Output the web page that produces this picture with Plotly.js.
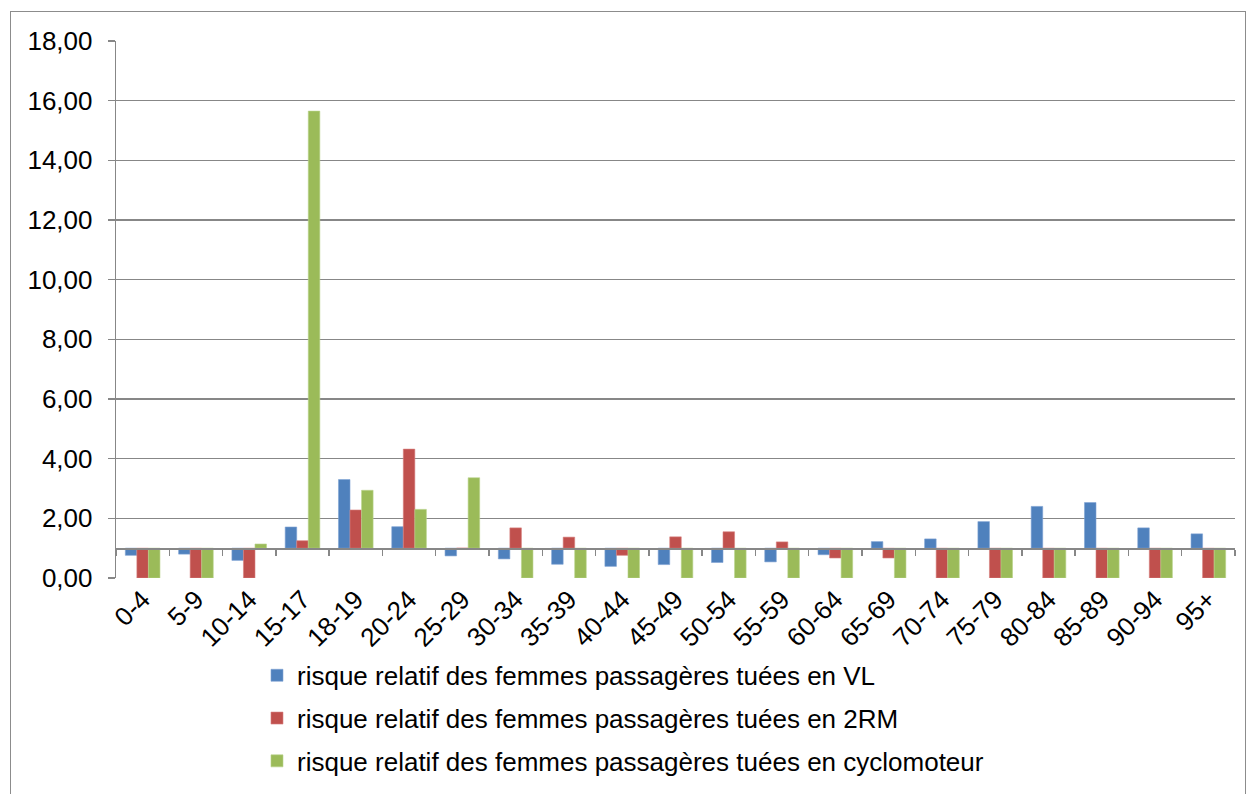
<!DOCTYPE html>
<html>
<head>
<meta charset="utf-8">
<script src="https://cdn.plot.ly/plotly-3.0.1.min.js"></script>
<style>
  html, body { margin: 0; padding: 0; background: #fff; }
  #wrap { position: relative; width: 1251px; height: 794px; overflow: hidden; }
  #frame { position: absolute; left: 10px; top: 11px; width: 1234px; height: 820px; border: 1px solid #8c8c8c; pointer-events: none; }
  #chart { position: absolute; left: 0; top: 0; width: 1251px; height: 794px; }
</style>
</head>
<body>
<div id="wrap">
  <div id="chart"></div>
  <div id="frame"></div>
</div>
<script>
const categories = ["0-4","5-9","10-14","15-17","18-19","20-24","25-29","30-34","35-39","40-44","45-49","50-54","55-59","60-64","65-69","70-74","75-79","80-84","85-89","90-94","95+"];
const riskVL    = [0.76, 0.80, 0.59, 1.71, 3.30, 1.72, 0.74, 0.64, 0.46, 0.39, 0.45, 0.52, 0.54, 0.78, 1.22, 1.31, 1.89, 2.40, 2.53, 1.68, 1.48];
const risk2RM   = [0.00, 0.00, 0.00, 1.25, 2.28, 4.32, 1.00, 1.68, 1.37, 0.76, 1.38, 1.55, 1.21, 0.67, 0.67, 0.00, 0.00, 0.00, 0.00, 0.00, 0.00];
const riskCyclo = [0.00, 0.00, 1.14, 15.65, 2.94, 2.30, 3.36, 0.00, 0.00, 0.00, 0.00, 0.00, 0.00, 0.00, 0.00, 0.00, 0.00, 0.00, 0.00, 0.00, 0.00];
const seriesNames = [
  "risque relatif des femmes passagères tuées en VL",
  "risque relatif des femmes passagères tuées en 2RM",
  "risque relatif des femmes passagères tuées en cyclomoteur"
];
const yTickVals = [0, 2, 4, 6, 8, 10, 12, 14, 16, 18];
const baseValue = 1;

const colors = ["#4F81BD", "#C0504D", "#9BBB59"];
const lineColors = ["#7FA3D3", "#D68280", "#B9D38A"];
const idx = categories.map((_, i) => i);

const traces = [riskVL, risk2RM, riskCyclo].map((vals, k) => ({
  type: "bar",
  name: seriesNames[k],
  x: idx,
  y: vals.map(v => v - baseValue),
  base: baseValue,
  customdata: vals,
  hovertemplate: "%{customdata:.2f}<extra></extra>",
  marker: { color: colors[k], line: { color: lineColors[k], width: 0.6 } },
  legendgroup: "g" + k
}));

const gridColor = "#878787";
const layout = {
  width: 1251,
  height: 794,
  margin: { l: 116, r: 16, t: 41, b: 216, autoexpand: false },
  paper_bgcolor: "rgba(0,0,0,0)",
  plot_bgcolor: "#fff",
  font: { family: "Liberation Sans, Arial, sans-serif", size: 26, color: "#000" },
  separators: ", ",
  barmode: "group",
  bargap: 0.35,
  bargroupgap: 0,
  showlegend: true,
  legend: {
    x: 0.126, xanchor: "left",
    yref: "container",
    y: 0.179, yanchor: "top",
    orientation: "v",
    font: { size: 26, color: "#000" },
    tracegroupgap: 6,
    itemclick: false
  },
  xaxis: {
    type: "linear",
    range: [-0.5, categories.length - 0.5],
    tickmode: "array",
    tickvals: idx,
    ticktext: categories,
    tickangle: -45,
    ticks: "",
    showline: false,
    showgrid: false,
    zeroline: false,
    tickfont: { size: 26 },
    fixedrange: true
  },
  xaxis2: {
    type: "linear",
    overlaying: "x",
    matches: "x",
    anchor: "free",
    position: baseValue / 18,
    range: [-0.5, categories.length - 0.5],
    tickmode: "array",
    tickvals: idx.concat([categories.length]).map(i => i - 0.5),
    showticklabels: false,
    ticks: "outside",
    ticklen: 6,
    tickwidth: 1.5,
    tickcolor: gridColor,
    showline: true,
    linecolor: gridColor,
    linewidth: 1.5,
    showgrid: false,
    zeroline: false
  },
  yaxis: {
    range: [0, 18],
    tickmode: "array",
    tickvals: yTickVals,
    tickformat: ".2f",
    ticks: "outside",
    ticklen: 7,
    tickwidth: 1.3,
    tickcolor: gridColor,
    ticklabelstandoff: 10,
    showline: true,
    linecolor: gridColor,
    linewidth: 1.3,
    showgrid: true,
    gridcolor: gridColor,
    gridwidth: 1.3,
    zeroline: false,
    tickfont: { size: 26 },
    fixedrange: true
  }
};

// invisible helper trace so xaxis2 is drawn
traces.push({ type: "scatter", x: [0], y: [0], xaxis: "x2", mode: "markers", marker: { opacity: 0 }, showlegend: false, hoverinfo: "skip" });

Plotly.newPlot("chart", traces, layout, { displayModeBar: false, staticPlot: true });
</script>
</body>
</html>
